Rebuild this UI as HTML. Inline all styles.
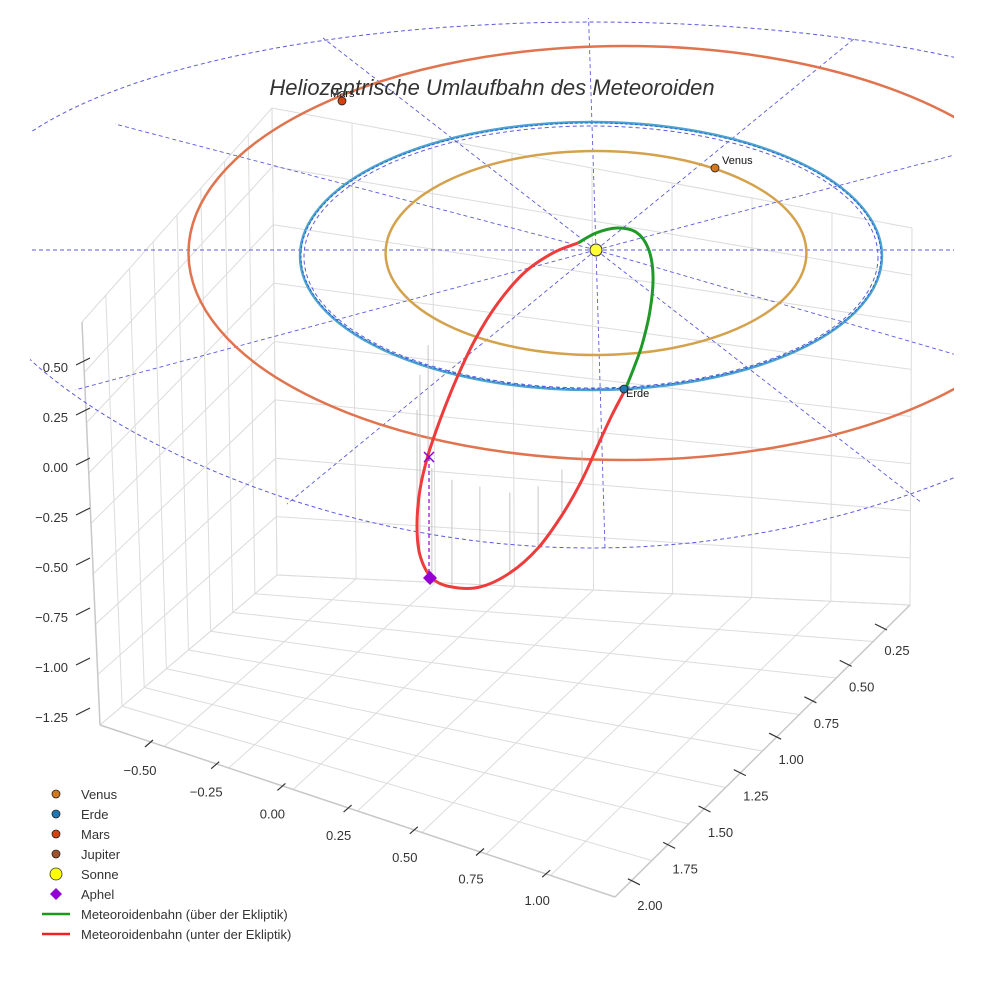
<!DOCTYPE html>
<html><head><meta charset="utf-8">
<style>
html,body{margin:0;padding:0;background:#fff;}
svg{display:block;font-family:"Liberation Sans",sans-serif;}
</style></head>
<body>
<svg id="chart" width="984" height="984" viewBox="0 0 984 984" xmlns="http://www.w3.org/2000/svg">
<defs><clipPath id="plotclip"><rect x="30" y="18" width="924" height="560"/></clipPath></defs>
<g id="grid"></g>
<g id="refs" clip-path="url(#plotclip)"></g>
<g id="orbits" clip-path="url(#plotclip)"></g>
<g id="drops"></g>
<g id="meteor"></g>
<g id="marks"></g>
<g id="axes"></g>
<text x="492" y="95" text-anchor="middle" font-size="22" font-style="italic" fill="#333">Heliozentrische Umlaufbahn des Meteoroiden</text>
<g id="legend"></g>
</svg>
<script>
// ---- data ----
const planetNames = ["Venus","Erde","Mars"];
const planetRadii = [0.723, 1.0, 1.5];
const planetColors = ["#d4a24c","#4ea3cf","#e0744f"];
const markerColors = ["#d2781e","#1f77b4","#d2430f"];
// meteoroid orbit samples in ecliptic-plane units
const meteorUpperX = [-0.062,0.0,0.072,0.137,0.179,0.196,0.186,0.158,0.127,0.100];
const meteorUpperY = [-0.052,-0.127,-0.164,-0.134,-0.015,0.187,0.448,0.709,0.896,1.045];
const meteorLowerX = [0.100,0.055,0.007,-0.048,-0.117,-0.199,-0.296,-0.399,-0.495,-0.564,-0.605,-0.615,-0.605,-0.577,-0.536,-0.481,-0.416,-0.337,-0.244,-0.148,-0.062];
const meteorLowerY = [1.045,1.231,1.455,1.716,1.978,2.224,2.410,2.515,2.515,2.448,2.276,2.052,1.791,1.530,1.269,0.970,0.672,0.396,0.164,0.022,-0.052];
const meteorDepth = [0,0.06,0.13,0.22,0.34,0.46,0.60,0.75,0.80,0.82,0.84,0.86,0.86,0.82,0.75,0.63,0.49,0.34,0.19,0.07,0];
const zTicks = ["0.50","0.25","0.00","−0.25","−0.50","−0.75","−1.00","−1.25"];
const yTicks = ["−0.50","−0.25","0.00","0.25","0.50","0.75","1.00"];
const xTicks = ["0.25","0.50","0.75","1.00","1.25","1.50","1.75","2.00"];
const legendLabels = ["Venus","Erde","Mars","Jupiter","Sonne","Aphel","Meteoroidenbahn (über der Ekliptik)","Meteoroidenbahn (unter der Ekliptik)"];
const legendColors = ["#d2781e","#1f77b4","#d2430f","#a0522d","#ffff00","#9400d3","#1a9a1a","#ee2222"];

// ---- projection ----
const CX=596, CY=250;
function sx(x){return CX+291*x;}
function sy(y){return CY+134*y;}
function orx(r){return 291*r;}
function ocx(r){return 591+68*Math.max(0,r-1);}
const NS="http://www.w3.org/2000/svg";
function el(tag,attrs,parent){const e=document.createElementNS(NS,tag);for(const k in attrs)e.setAttribute(k,attrs[k]);parent.appendChild(e);return e;}

// ---- grid walls ----
const G=document.getElementById('grid');
const A=[100,725],B=[615,897],C=[910,605],D=[277,575];
const At=[82,322],Dt=[272,108],Ct=[912,228];
function lerp(p,q,t){return [p[0]+(q[0]-p[0])*t,p[1]+(q[1]-p[1])*t];}
function gl(p,q,name){const l=el('line',{x1:p[0],y1:p[1],x2:q[0],y2:q[1],stroke:'#dcdcdc','stroke-width':1},G);
  }
for(let i=0;i<=8;i++){const t=i/8;
  gl(lerp(A,D,t),lerp(B,C,t),'floor-grid-line');
  gl(lerp(A,B,t),lerp(D,C,t),'floor-grid-line');
  gl(lerp(A,D,t),lerp(At,Dt,t),'wall-grid-line');
  gl(lerp(D,C,t),lerp(Dt,Ct,t),'wall-grid-line');
  gl(lerp(A,At,t),lerp(D,Dt,t),'wall-grid-line');
  gl(lerp(D,Dt,t),lerp(C,Ct,t),'wall-grid-line');
}
[[A,B],[B,C],[A,At]].forEach(s=>{const l=el('line',{x1:s[0][0],y1:s[0][1],x2:s[1][0],y2:s[1][1],stroke:'#c8c8c8','stroke-width':1.5},G);
  });

// ---- reference dashed ellipse and spokes ----
const R=document.getElementById('refs');
const RCX=592,RCY=285;
function refPt(a){const t=a*Math.PI/180;const s=Math.sin(t);
  const rxx = 620-120*s;
  return [RCX+rxx*Math.cos(t), RCY+263*s];}
let d='';for(let a=0;a<=360;a+=2){const p=refPt(a);d+=(a?'L':'M')+p[0].toFixed(1)+','+p[1].toFixed(1);}
let e=el('path',{d:d,fill:'none',stroke:'#5b5bdc','stroke-width':1,'stroke-dasharray':'4,3'},R);

const spokeEnds=[[605,548],[287,504],[75,390],[0,250],[115,124],[323,38],[588,0],[855,38],[1060,127],[1000,250],[1060,385],[922,503]];
spokeEnds.forEach(p=>{const l=el('line',{x1:CX,y1:CY,x2:p[0],y2:p[1],stroke:'#5b5bdc','stroke-width':0.9,'stroke-dasharray':'4,3'},R);
  });
e=el('ellipse',{cx:591,cy:257,rx:287,ry:131,fill:'none',stroke:'#5b5bdc','stroke-width':1,'stroke-dasharray':'4,3'},R);


// ---- planet orbits ----
const O=document.getElementById('orbits');
const orbitRy=[102,134,207];
planetRadii.forEach((r,i)=>{
  const o=el('ellipse',{cx:ocx(r)+(i==0?5:0),cy:i==1?256:253,rx:orx(r),ry:orbitRy[i],fill:'none',stroke:planetColors[i],'stroke-width':2.5},O);
  });
e=el('ellipse',{cx:591,cy:256,rx:290,ry:133,fill:'none',stroke:'#1f66d0','stroke-width':1,'stroke-dasharray':'3,2'},O);


// ---- drop lines ----
const DR=document.getElementById('drops');
meteorLowerX.forEach((xv,i)=>{if(meteorDepth[i]<0.03)return;
  const x=sx(xv),y=sy(meteorLowerY[i]);
  if(y<440)return;
  const l=el('line',{x1:x,y1:y,x2:x,y2:y-meteorDepth[i]*134,stroke:'#b8b8b8','stroke-width':0.8},DR);
  });

// ---- meteoroid ----
const M=document.getElementById('meteor');
function smooth(xs,ys){const P=xs.map((x,i)=>[sx(x),sy(ys[i])]);let s='M'+P[0][0].toFixed(1)+','+P[0][1].toFixed(1);
  for(let i=0;i<P.length-1;i++){const p0=P[Math.max(0,i-1)],p1=P[i],p2=P[i+1],p3=P[Math.min(P.length-1,i+2)];
    const c1=[p1[0]+(p2[0]-p0[0])/6,p1[1]+(p2[1]-p0[1])/6],c2=[p2[0]-(p3[0]-p1[0])/6,p2[1]-(p3[1]-p1[1])/6];
    s+=`C${c1[0].toFixed(1)},${c1[1].toFixed(1)} ${c2[0].toFixed(1)},${c2[1].toFixed(1)} ${p2[0].toFixed(1)},${p2[1].toFixed(1)}`;}
  return s;}
e=el('path',{d:smooth(meteorLowerX,meteorLowerY),fill:'none',stroke:'#ee3b3b','stroke-width':3,'stroke-linejoin':'round'},M);

e=el('path',{d:smooth(meteorUpperX,meteorUpperY),fill:'none',stroke:'#1f9a2a','stroke-width':3,'stroke-linejoin':'round'},M);


// ---- markers ----
const K=document.getElementById('marks');
const ppos=[[715,168],[624,389],[342,101]];
planetNames.forEach((n,i)=>{const c=el('circle',{cx:ppos[i][0],cy:ppos[i][1],r:4,fill:markerColors[i],stroke:'#222','stroke-width':0.8},K);
  
  const t=el('text',{x:ppos[i][0]+(i==2?-12:(i==1?2:7)),y:ppos[i][1]+(i==1?8:-4),'font-size':11,fill:'#111'},K);t.textContent=n;
  });
e=el('circle',{cx:CX,cy:CY,r:6,fill:'#ffff33',stroke:'#333','stroke-width':1},K);

e=el('line',{x1:429,y1:457,x2:429,y2:578,stroke:'#9400d3','stroke-width':1.2,'stroke-dasharray':'4,3'},K);

e=el('path',{d:'M424,452L434,462M434,452L424,462',stroke:'#9400d3','stroke-width':1.5},K);

e=el('path',{d:'M430,571L437,578L430,585L423,578Z',fill:'#9400d3'},K);


// ---- axes ticks ----
const X=document.getElementById('axes');
zTicks.forEach((t,i)=>{const y=367+i*50;
  const l=el('line',{x1:76,y1:y-2,x2:90,y2:y-9,stroke:'#333','stroke-width':1.2},X);
  const s=el('text',{x:68,y:y+5,'text-anchor':'end','font-size':13,fill:'#333'},X);s.textContent=t;
  });
yTicks.forEach((t,i)=>{const x=140+i*66.2,y=770+i*21.7;
  const l=el('line',{x1:x+5,y1:y-23,x2:x+13,y2:y-30,stroke:'#333','stroke-width':1.2},X);
  const s=el('text',{x:x,y:y+5,'text-anchor':'middle','font-size':13,fill:'#333'},X);s.textContent=t;
  });
xTicks.forEach((t,i)=>{const x=897-i*35.3,y=650+i*36.4;
  const l=el('line',{x1:x-22,y1:y-26,x2:x-10,y2:y-20,stroke:'#333','stroke-width':1.2},X);
  const s=el('text',{x:x,y:y+5,'text-anchor':'middle','font-size':13,fill:'#333'},X);s.textContent=t;
  });

// ---- legend ----
const L=document.getElementById('legend');
legendLabels.forEach((t,i)=>{const y=794+i*20;
  let m;
  if(i<4){m=el('circle',{cx:56,cy:y,r:4,fill:legendColors[i],stroke:'#222','stroke-width':0.8},L);}
  else if(i==4){m=el('circle',{cx:56,cy:y,r:6,fill:legendColors[i],stroke:'#333','stroke-width':0.8},L);}
  else if(i==5){m=el('path',{d:`M56,${y-6}L62,${y}L56,${y+6}L50,${y}Z`,fill:legendColors[i]},L);}
  else {m=el('line',{x1:42,y1:y,x2:70,y2:y,stroke:legendColors[i],'stroke-width':2.5},L);}
  
  const s=el('text',{x:81,y:y+5,'font-size':13,fill:'#333'},L);s.textContent=t;
  });
</script>
</body></html>
